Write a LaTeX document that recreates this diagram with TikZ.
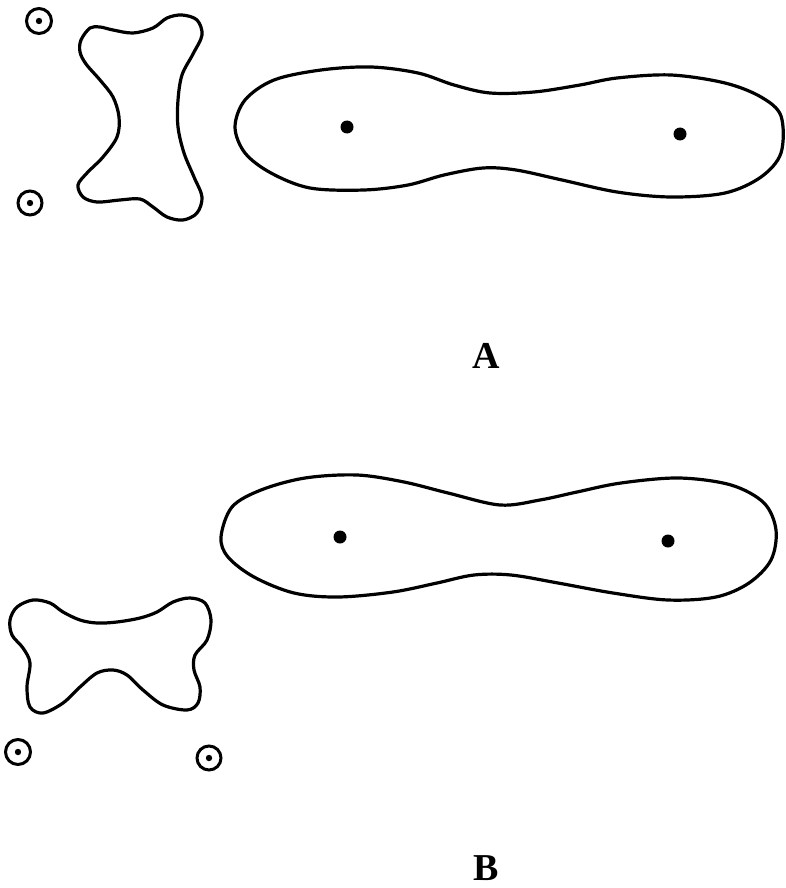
\documentclass[tikz,border=0pt]{standalone}
\usepackage{fontspec}
\setmainfont{Liberation Serif}
\tikzset{
  outline/.style={draw=black, line width=3.2pt, line join=round},
  ring/.style={draw=black, line width=3pt},
  lbl/.style={font=\fontsize{38}{40}\selectfont\bfseries, inner sep=0pt}
}
\begin{document}
\begin{tikzpicture}[x=1pt,y=-1pt]
\useasboundingbox (0,0) rectangle (785,888);
% ---------- Panel A ----------
\draw[ring] (39,21) circle (12.5);
\fill (39,21) circle (3.2);
\draw[ring] (30,203) circle (12);
\fill (30,203) circle (3.2);
% vertical bone
\draw[outline] plot[smooth cycle, tension=0.55] coordinates {
 (90,28) (81,40) (80,52) (86,64) (100,80) (113,97) (119,117) (117,137)
 (103,157) (87,173) (78,185) (83,197) (97,202) (120,200) (140,199)
 (153,207) (167,217) (183,220) (197,213) (202,197) (194,177) (184,153)
 (178,127) (178,100) (182,75) (193,54) (202,35) (197,20) (182,15)
 (167,18) (153,28) (133,33) (113,30) (100,27)};
% big blob A
\draw[outline] plot[smooth cycle, tension=0.55] coordinates {
 (235,127) (245,100) (274,80) (321,70) (371,67) (418,73) (454,85)
 (490,93) (534,92) (580,85) (617,78) (671,75) (725,83) (761,97)
 (781,116) (781,153) (761,177) (725,193) (671,197) (617,192)
 (562,180) (516,170) (483,168) (444,175) (408,185) (364,190)
 (310,188) (271,173) (245,153)};
\fill (347,127) circle (6.5);
\fill (680,134) circle (6.5);
\node[lbl] (labA) at (486,356) {A};
% ---------- Panel B ----------
\draw[outline] plot[smooth cycle, tension=0.55] coordinates {
 (221,537) (232,507) (261,490) (305,478) (357,475) (404,482) (448,493)
 (500,505) (540,500) (577,492) (621,483) (679,478) (731,485) (764,503)
 (776,530) (771,560) (749,583) (716,597) (668,600) (613,593) (558,583)
 (511,575) (474,575) (437,583) (393,592) (338,597) (294,593) (254,577)
 (228,557)};
\fill (340,537) circle (6.5);
\fill (668,541) circle (6.5);
% horizontal bone
\draw[outline] plot[smooth cycle, tension=0.55] coordinates {
 (10,620) (17,607) (33,600) (50,603) (63,612) (80,620) (97,623) (117,622)
 (140,618) (157,612) (173,602) (190,598) (205,603) (211,620) (207,640)
 (195,655) (194,670) (200,687) (198,703) (187,710) (163,705) (143,690)
 (127,675) (113,670) (97,673) (80,687) (63,703) (43,713) (30,707)
 (27,687) (30,663) (23,648) (12,635)};
\draw[ring] (18,752) circle (12.5);
\fill (18,752) circle (3.2);
\draw[ring] (209,758) circle (12);
\fill (209,758) circle (3.2);
\node[lbl] (labB) at (486,868) {B};
\end{tikzpicture}
\end{document}
